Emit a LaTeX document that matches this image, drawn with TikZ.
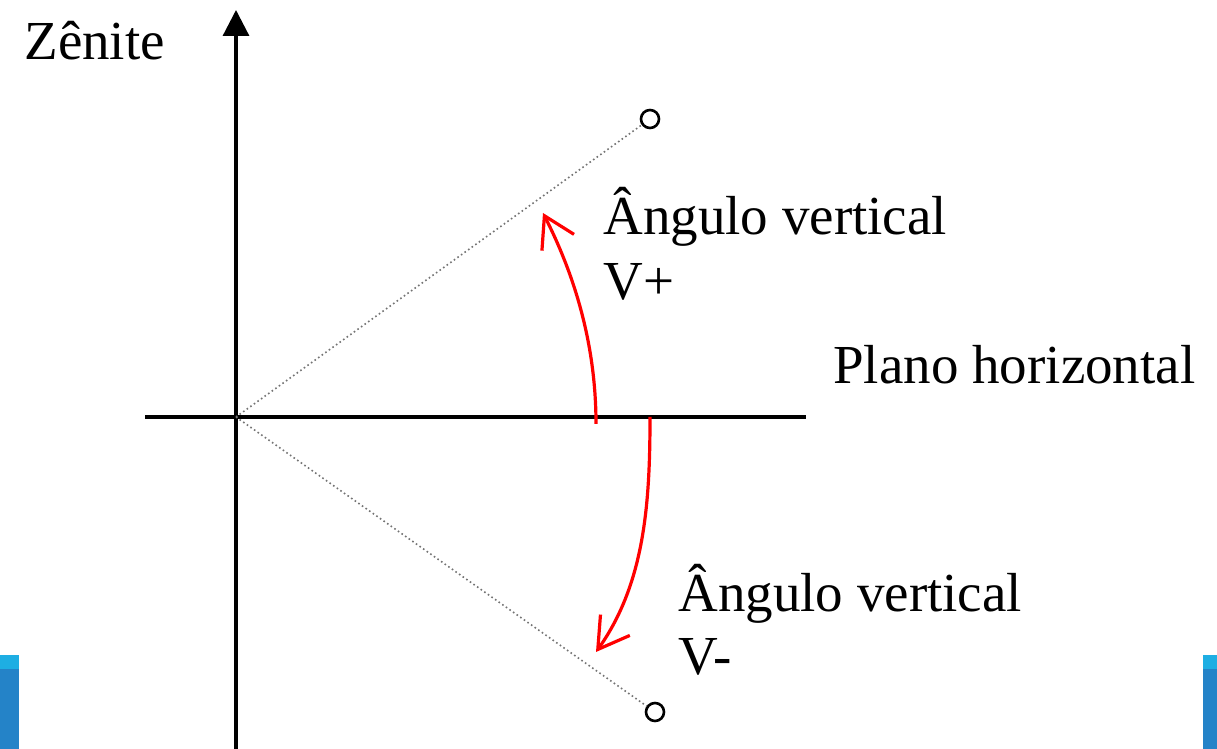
\documentclass[tikz,border=0pt]{standalone}
\usepackage{fontspec}
\setmainfont{Liberation Serif}
\usetikzlibrary{arrows.meta, positioning}

\definecolor{barblue}{HTML}{2483C8}
\definecolor{barcyan}{HTML}{1EAEE3}

\begin{document}
\begin{tikzpicture}[x=0.5pt, y=0.5pt,
  axis/.style={line width=1.6pt, black},
  ray/.style={line width=0.8pt, black!55, dash pattern=on 0.8pt off 1.4pt},
  target/.style={circle, draw, line width=1.3pt, minimum size=9pt, inner sep=0pt},
  varc/.style={-{Straight Barb[length=15pt,width=18pt]}, red, line width=1.6pt},
  lbl/.style={anchor=base west, inner sep=0pt, font=\fontsize{27.5}{32.5}\selectfont}]

  \useasboundingbox (0,0) rectangle (1217,749);

  % blue corner bars
  \fill[barblue] (0,0) rectangle (19,80);
  \fill[barcyan] (0,80) rectangle (19,94);
  \fill[barblue] (1203,0) rectangle (1217,80);
  \fill[barcyan] (1203,80) rectangle (1217,94);

  \coordinate (O)    at (236,332);
  \coordinate (zbot) at (236,0);
  \coordinate (ztop) at (236,739);
  \coordinate (hl)   at (145,332);
  \coordinate (hr)   at (806,332);
  \coordinate (vp0)  at (596,325);
  \coordinate (vp1)  at (543,536);
  \coordinate (vm0)  at (650,332);
  \coordinate (vm1)  at (596,97);

  \node[target] (up) at (650,630) {};
  \node[target] (dn) at (655,37)  {};

  \node[lbl] (zen)   at (24,689)  {Zênite};
  \node[lbl] (plano) at (833,365) {Plano horizontal};
  \node[lbl] (vpa)   at (603,514) {Ângulo vertical};
  \node[lbl] (vpb)   at (603,449) {V+};
  \node[lbl] (vma)   at (678,137) {Ângulo vertical};
  \node[lbl] (vmb)   at (678,74)  {V-};

  \draw[axis, -{Triangle[length=13pt,width=13pt]}] (zbot) -- (ztop);
  \draw[axis] (hl) -- (hr);
  \draw[ray] (O) -- (up);
  \draw[ray] (O) -- (dn);

  \draw[varc] (vp0) .. controls (596,400) and (577,469) .. (vp1);
  \draw[varc] (vm0) .. controls (650,247) and (645,166) .. (vm1);
\end{tikzpicture}
\end{document}
